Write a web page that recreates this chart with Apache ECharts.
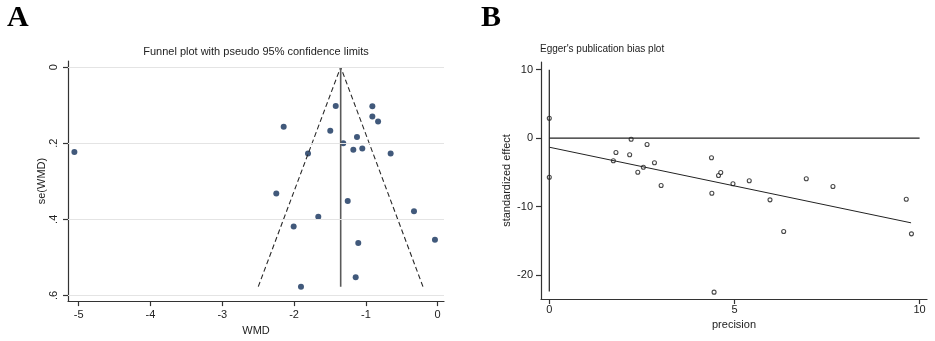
<!DOCTYPE html>
<html>
<head>
<meta charset="utf-8">
<script src="https://cdn.jsdelivr.net/npm/echarts@6/dist/echarts.min.js"></script>
<style>
  html, body { margin: 0; padding: 0; background: #fff; }
  #chart { width: 935px; height: 341px; }
</style>
</head>
<body>
<div id="chart"></div>
<script>
  // panel A: funnel plot
  const wmd = [-5.06, -2.145, -1.42, -0.91, -0.91, -0.83, -1.496, -1.124, -1.315, -1.175, -1.05,
    -1.806, -0.655, -2.248, -1.253, -0.33, -1.663, -2.006, -0.038, -1.106, -1.142, -1.904]
  const seWmd = [0.223, 0.157, 0.102, 0.103, 0.130, 0.143, 0.167, 0.184, 0.200, 0.217, 0.214,
    0.227, 0.227, 0.332, 0.352, 0.379, 0.393, 0.419, 0.454, 0.462, 0.552, 0.577]
  const funnelX = [-2.499, -1.351, -0.205]
  const funnelY = [0.577, 0, 0.577]
  const pooledX = [-1.351, -1.351]
  const pooledY = [0, 0.577]
  const xTicksA = [-5, -4, -3, -2, -1, 0]
  const yTicksA = [0, 0.2, 0.4, 0.6]

  // panel B: Egger's plot
  const precision = [0, 0, 1.73, 1.80, 2.17, 2.21, 2.39, 2.54, 2.64, 2.84, 3.02, 4.38,
    4.39, 4.45, 4.57, 4.63, 4.96, 5.40, 5.96, 6.33, 6.94, 7.66, 9.64, 9.78]
  const stdEffect = [2.92, -5.70, -3.31, -2.09, -2.43, -0.15, -4.97, -4.24, -0.92, -3.60, -6.92, -2.87,
    -8.04, -22.5, -5.45, -5.01, -6.67, -6.23, -9.01, -13.64, -5.94, -7.06, -8.92, -13.98]
  const regX = [0, 9.77]
  const regY = [-1.32, -12.37]
  const zeroLineX = [0, 10]
  const zeroLineY = [0, 0]
  const vLineX = [0, 0]
  const vLineY = [10, -22.4]
  const xTicksB = [0, 5, 10]
  const yTicksB = [10, 0, -10, -20]

  const font = 'Liberation Sans'
  const txt = '#222'
  const pairs = (xs, ys) => xs.map((x, i) => [x, ys[i]])

  function axisBase (ticks, extra) {
    return Object.assign({
      type: 'value',
      axisLine: { show: true, onZero: false, lineStyle: { color: '#333', width: 1.2 } },
      axisTick: { show: true, length: 5, customValues: ticks, lineStyle: { color: '#333', width: 1.2 } },
      axisLabel: { customValues: ticks, fontSize: 11, color: txt, fontFamily: font },
      splitLine: { show: false },
      nameLocation: 'middle',
      nameTextStyle: { fontSize: 11, color: txt, fontFamily: font }
    }, extra)
  }

  const chart = echarts.init(document.getElementById('chart'))
  const option = {
    animation: false,
    graphic: [
      { type: 'text', x: 7, y: 33, style: { text: 'A', font: 'bold 30px "Liberation Serif"', fill: '#000', textVerticalAlign: 'bottom' } },
      { type: 'text', x: 481, y: 33, style: { text: 'B', font: 'bold 30px "Liberation Serif"', fill: '#000', textVerticalAlign: 'bottom' } },
      { type: 'text', x: 256, y: 52, style: { text: 'Funnel plot with pseudo 95% confidence limits', font: '11px "Liberation Sans"', fill: txt, textAlign: 'center', textVerticalAlign: 'middle' } },
      { type: 'text', x: 540, y: 49, style: { text: "Egger's publication bias plot", font: '10px "Liberation Sans"', fill: txt, textAlign: 'left', textVerticalAlign: 'middle' } }
    ],
    grid: [
      { left: 68, top: 61, width: 376, height: 243 },
      { left: 541, top: 62, width: 386, height: 237 }
    ],
    xAxis: [
      axisBase(xTicksA, { gridIndex: 0, min: -5.149, max: 0.088, name: 'WMD', nameGap: 18 }),
      axisBase(xTicksB, { gridIndex: 1, min: -0.224, max: 10.2, name: 'precision', nameGap: 15 })
    ],
    yAxis: [
      axisBase(yTicksA, {
        gridIndex: 0, min: -0.016, max: 0.615, inverse: true, name: 'se(WMD)', nameGap: 19
      }),
      axisBase(yTicksB, {
        gridIndex: 1, min: -23.5, max: 11.13, name: 'standardized effect', nameGap: 29
      })
    ],
    series: [
      {
        type: 'line',
        xAxisIndex: 0,
        yAxisIndex: 0,
        data: [],
        silent: true,
        z: 1,
        markLine: {
          silent: true,
          symbol: 'none',
          label: { show: false },
          lineStyle: { color: '#e4e4e4', type: 'solid', width: 1 },
          data: yTicksA.map(v => ({ yAxis: v }))
        }
      },
      {
        type: 'line',
        xAxisIndex: 0,
        yAxisIndex: 0,
        data: pairs(funnelX, funnelY),
        symbol: 'none',
        lineStyle: { color: '#2a2a2a', width: 1.1, type: [5, 3] }
      },
      {
        type: 'line',
        xAxisIndex: 0,
        yAxisIndex: 0,
        data: pairs(pooledX, pooledY),
        symbol: 'none',
        lineStyle: { color: '#5a5a5a', width: 1.6 }
      },
      {
        type: 'scatter',
        xAxisIndex: 0,
        yAxisIndex: 0,
        data: pairs(wmd, seWmd),
        symbolSize: 6,
        itemStyle: { color: '#12305a' }
      },
      {
        type: 'line',
        xAxisIndex: 1,
        yAxisIndex: 1,
        data: pairs(zeroLineX, zeroLineY),
        symbol: 'none',
        lineStyle: { color: '#222', width: 1.2 }
      },
      {
        type: 'line',
        xAxisIndex: 1,
        yAxisIndex: 1,
        data: pairs(vLineX, vLineY),
        symbol: 'none',
        lineStyle: { color: '#222', width: 1.2 }
      },
      {
        type: 'line',
        xAxisIndex: 1,
        yAxisIndex: 1,
        data: pairs(regX, regY),
        symbol: 'none',
        lineStyle: { color: '#222', width: 1 }
      },
      {
        type: 'scatter',
        xAxisIndex: 1,
        yAxisIndex: 1,
        data: pairs(precision, stdEffect),
        symbol: 'circle',
        symbolSize: 4,
        itemStyle: { color: '#fff', borderColor: '#1a1a1a', borderWidth: 1.1 }
      }
    ]
  }
  option.xAxis[0].axisLabel.margin = 8
  option.xAxis[1].axisLabel.margin = 5
  option.yAxis[0].axisLabel.rotate = 90
  option.yAxis[0].axisLabel.margin = 9
  option.yAxis[0].axisLabel.formatter = v => (v === 0 ? '0' : String(v).replace('0.', '.'))
  option.yAxis[1].axisLabel.margin = 8
  chart.setOption(option)
</script>
</body>
</html>
